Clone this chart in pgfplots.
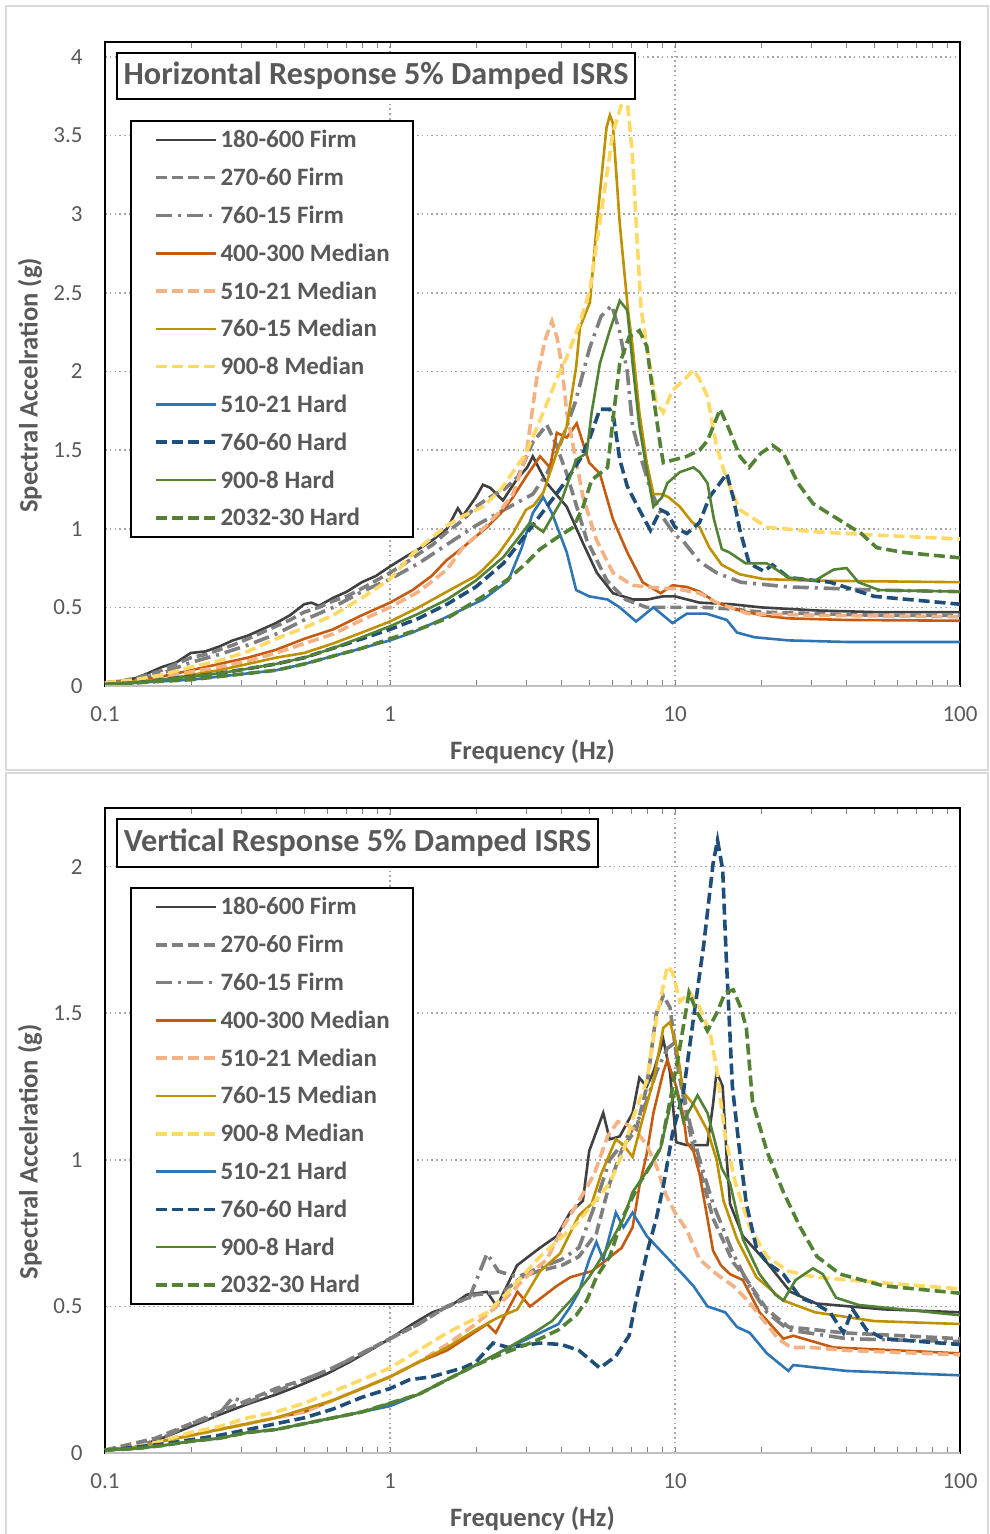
\documentclass[border=0pt]{standalone}
\usepackage{fontspec}
\setmainfont{Carlito}
\usepackage{pgfplots}
\pgfplotsset{compat=1.18}

\definecolor{cDark}{HTML}{404040}
\definecolor{cGray}{HTML}{7F7F7F}
\definecolor{cOrange}{HTML}{C55A11}
\definecolor{cLtOrange}{HTML}{F4B183}
\definecolor{cGold}{HTML}{BF9000}
\definecolor{cYellow}{HTML}{FFD966}
\definecolor{cBlue}{HTML}{2E75B6}
\definecolor{cNavy}{HTML}{1F4E79}
\definecolor{cGreen}{HTML}{548235}
\definecolor{txt}{HTML}{595959}
\definecolor{gridc}{HTML}{A6A6A6}
\definecolor{borderc}{HTML}{D9D9D9}
\definecolor{xaxisc}{HTML}{BFBFBF}

\tikzset{
  s1/.style={cDark, line width=1.3pt, solid},
  s2/.style={cGray, line width=1.8pt, dash pattern=on 5.5pt off 2.5pt},
  s3/.style={cGray, line width=1.8pt, dash pattern=on 8pt off 3pt on 1.5pt off 3pt},
  s4/.style={cOrange, line width=1.3pt, solid},
  s5/.style={cLtOrange, line width=1.8pt, dash pattern=on 5.5pt off 2.5pt},
  s6/.style={cGold, line width=1.3pt, solid},
  s7/.style={cYellow, line width=1.8pt, dash pattern=on 5.5pt off 2.5pt},
  s8/.style={cBlue, line width=1.3pt, solid},
  s9/.style={cNavy, line width=1.8pt, dash pattern=on 5.5pt off 2.5pt},
  s10/.style={cGreen, line width=1.3pt, solid},
  s11/.style={cGreen, line width=1.8pt, dash pattern=on 5.5pt off 2.5pt},
}

\begin{document}
\begin{tikzpicture}
\path[use as bounding box] (0pt,0pt) rectangle (494.5pt,-767pt);
\draw[borderc, line width=1pt] (3pt,-3pt) rectangle (494pt,-385pt);
\draw[borderc, line width=1pt] (3pt,-386.5pt) rectangle (494pt,-772pt);

% ---------- horizontal ----------
\begin{axis}[at={(52.5pt,-343pt)}, anchor=south west,
    scale only axis, width=427.5pt, height=322pt,
    xmode=log, xmin=0.1, xmax=100, ymin=0, ymax=4.095,
    xtick={0.1,1,10,100}, xticklabels={0.1,1,10,100},
    ytick={0,0.5,1,1.5,2,2.5,3,3.5,4},
    yticklabels={0,0.5,1,1.5,2,2.5,3,3.5,4},
    minor xtick={},
    grid=major,
    major grid style={gridc, line width=0.8pt, dash pattern=on 0.8pt off 1.6pt},
    major tick length=0pt,
    axis line style={black, line width=1pt},
    tick label style={font=\fontsize{11.5}{13}\selectfont, text=txt},
    yticklabel style={inner sep=0pt, xshift=-11pt},
    xticklabel style={inner sep=0pt, yshift=-10pt},
    label style={font=\bfseries\fontsize{13.3}{15}\selectfont, text=txt},
    xlabel={Frequency (Hz)},
    ylabel={Spectral Accelration (g)},
    xlabel style={at={(axis description cs:0.5,-0.1025)}, anchor=center},
    ylabel style={at={(axis description cs:-0.0877,0.467)}, anchor=center},
    clip=false,
    legend cell align=left,
    legend image code/.code={\draw[#1] (0pt,0pt) -- (30pt,0pt);},
    legend style={at={(0.0292,0.8789)}, anchor=north west,
      draw=black, line width=1pt, fill=white,
      inner xsep=11.5pt, inner ysep=0pt,
      font=\bfseries\fontsize{12.5}{14}\selectfont,
      row sep=0pt,
      nodes={inner sep=0pt, text height=13.45pt, text depth=5.45pt, text=txt},
      /tikz/every odd column/.append style={column sep=1.5pt}},
  ]
\addplot[s1] coordinates {(0.1,0.02) (0.113,0.03) (0.128,0.05) (0.141,0.08) (0.158,0.12) (0.178,0.15) (0.2,0.21) (0.225,0.22) (0.251,0.25) (0.281,0.29) (0.317,0.32) (0.355,0.36) (0.398,0.40) (0.446,0.45) (0.5,0.52) (0.53,0.53) (0.563,0.51) (0.631,0.56) (0.706,0.60) (0.797,0.66) (0.893,0.70) (1,0.76) (1.13,0.82) (1.26,0.87) (1.415,0.93) (1.585,1.0) (1.73,1.13) (1.8,1.08) (2.0,1.2) (2.12,1.28) (2.25,1.26) (2.49,1.18) (2.8,1.32) (3.03,1.39) (3.17,1.46) (3.55,1.29) (4.17,1.14) (4.75,0.91) (5.32,0.72) (6.06,0.59) (7.13,0.55) (8.0,0.55) (9.07,0.57) (10,0.57) (12.2,0.53) (15.8,0.52) (20,0.50) (31.7,0.48) (50,0.47) (100,0.47)};
\addlegendentry{180-600 Firm}
\addplot[s2] coordinates {(0.1,0.02) (0.113,0.03) (0.128,0.05) (0.141,0.07) (0.158,0.10) (0.178,0.14) (0.2,0.18) (0.225,0.20) (0.251,0.23) (0.281,0.26) (0.317,0.30) (0.355,0.34) (0.398,0.38) (0.446,0.42) (0.5,0.47) (0.563,0.50) (0.631,0.54) (0.706,0.57) (0.797,0.62) (0.893,0.67) (1,0.72) (1.13,0.78) (1.26,0.84) (1.415,0.90) (1.585,0.98) (1.79,1.05) (2.0,1.14) (2.24,1.20) (2.51,1.25) (2.81,1.33) (3.17,1.55) (3.55,1.66) (3.8,1.55) (4.17,1.35) (4.9,0.93) (5.77,0.67) (6.7,0.55) (7.96,0.50) (10,0.50) (12.6,0.50) (15.8,0.49) (20,0.47) (31.7,0.46) (50,0.45) (100,0.45)};
\addlegendentry{270-60 Firm}
\addplot[s3] coordinates {(0.1,0.02) (0.128,0.04) (0.158,0.08) (0.2,0.15) (0.251,0.20) (0.317,0.26) (0.398,0.33) (0.5,0.42) (0.631,0.50) (0.797,0.60) (1,0.68) (1.26,0.78) (1.585,0.90) (2.0,1.02) (2.51,1.12) (3.17,1.22) (3.55,1.35) (3.98,1.55) (4.46,1.80) (5.02,2.15) (5.5,2.35) (6.0,2.42) (6.4,2.25) (6.8,2.0) (7.1,1.65) (7.6,1.45) (8.2,1.25) (9.0,1.08) (10,0.96) (10.7,0.92) (12.2,0.79) (14,0.72) (17,0.66) (25,0.63) (36,0.62) (50,0.61) (100,0.60)};
\addlegendentry{760-15 Firm}
\addplot[s4] coordinates {(0.1,0.02) (0.128,0.03) (0.158,0.06) (0.2,0.10) (0.251,0.14) (0.317,0.18) (0.398,0.23) (0.5,0.30) (0.631,0.36) (0.797,0.45) (1,0.53) (1.2,0.61) (1.4,0.70) (1.58,0.80) (1.8,0.88) (2.0,0.95) (2.19,1.01) (2.45,1.10) (2.7,1.20) (3.0,1.33) (3.36,1.46) (3.64,1.39) (3.85,1.61) (4.17,1.58) (4.52,1.67) (5.0,1.42) (5.45,1.35) (6.06,1.06) (6.8,0.85) (7.7,0.66) (8.9,0.59) (9.8,0.64) (11,0.63) (12.2,0.60) (14,0.53) (17,0.48) (20,0.45) (25,0.43) (40,0.42) (100,0.415)};
\addlegendentry{400-300 Median}
\addplot[s5] coordinates {(0.1,0.02) (0.128,0.03) (0.158,0.05) (0.2,0.09) (0.251,0.12) (0.317,0.16) (0.398,0.21) (0.5,0.27) (0.631,0.33) (0.797,0.42) (1,0.50) (1.26,0.60) (1.585,0.74) (1.8,0.88) (2.0,0.95) (2.4,1.10) (2.7,1.22) (3.0,1.46) (3.27,1.95) (3.5,2.2) (3.7,2.32) (3.85,2.22) (4.0,2.05) (4.17,1.74) (4.4,1.52) (4.76,1.20) (5.3,0.93) (6.06,0.72) (7.1,0.64) (9.1,0.62) (10,0.62) (12.2,0.59) (14,0.53) (18,0.46) (30,0.45) (100,0.44)};
\addlegendentry{510-21 Median}
\addplot[s6] coordinates {(0.1,0.02) (0.128,0.03) (0.158,0.04) (0.2,0.07) (0.251,0.10) (0.317,0.14) (0.398,0.18) (0.5,0.21) (0.631,0.27) (0.797,0.34) (1,0.41) (1.26,0.50) (1.585,0.60) (2.0,0.70) (2.12,0.74) (2.4,0.84) (2.7,0.97) (3.0,1.12) (3.2,1.15) (3.45,1.23) (3.84,1.48) (4.17,1.65) (4.5,2.03) (4.64,2.28) (5.03,2.44) (5.33,2.96) (5.75,3.55) (5.91,3.63) (6.05,3.58) (6.4,2.94) (6.84,2.39) (7.1,2.16) (7.5,1.74) (7.96,1.42) (8.4,1.22) (9.0,1.22) (9.5,1.2) (10.4,1.14) (11.5,1.04) (12.2,1.01) (13.2,0.88) (14.6,0.77) (16.9,0.71) (20.5,0.68) (30,0.67) (100,0.66)};
\addlegendentry{760-15 Median}
\addplot[s7] coordinates {(0.1,0.02) (0.128,0.04) (0.158,0.07) (0.2,0.12) (0.251,0.16) (0.317,0.22) (0.398,0.30) (0.5,0.37) (0.631,0.45) (0.797,0.56) (1,0.68) (1.2,0.84) (1.415,0.95) (1.585,1.02) (1.8,1.08) (2.12,1.14) (2.45,1.25) (3.0,1.48) (3.45,1.74) (3.84,1.95) (4.17,2.09) (4.64,2.31) (5.03,2.52) (5.45,2.95) (6.06,3.52) (6.5,3.70) (6.84,3.68) (7.1,3.36) (7.36,2.84) (7.6,2.4) (8.17,2.03) (8.6,1.80) (9.1,1.74) (9.8,1.88) (10.8,1.95) (11.6,2.01) (12.2,1.95) (13,1.84) (14,1.52) (15.2,1.31) (16.9,1.12) (21,1.01) (31.4,0.98) (50,0.96) (100,0.935)};
\addlegendentry{900-8 Median}
\addplot[s8] coordinates {(0.1,0.01) (0.128,0.02) (0.158,0.03) (0.2,0.04) (0.251,0.06) (0.317,0.08) (0.398,0.10) (0.5,0.14) (0.631,0.19) (0.797,0.24) (1,0.29) (1.2,0.34) (1.585,0.44) (2.12,0.55) (2.6,0.67) (2.9,0.88) (3.17,1.10) (3.45,1.20) (3.7,1.10) (4.17,0.85) (4.5,0.61) (5.0,0.57) (5.8,0.55) (6.4,0.50) (7.3,0.41) (8.4,0.50) (9.8,0.40) (11.0,0.46) (12.9,0.46) (15.2,0.42) (16.5,0.34) (19,0.31) (25,0.29) (40,0.28) (100,0.28)};
\addlegendentry{510-21 Hard}
\addplot[s9] coordinates {(0.1,0.01) (0.128,0.02) (0.158,0.04) (0.2,0.06) (0.251,0.08) (0.317,0.11) (0.398,0.14) (0.5,0.18) (0.631,0.24) (0.797,0.30) (1,0.36) (1.26,0.43) (1.585,0.52) (2.0,0.63) (2.5,0.78) (2.9,0.93) (3.55,1.14) (4.17,1.31) (4.64,1.44) (5.03,1.58) (5.45,1.76) (5.9,1.76) (6.1,1.70) (6.4,1.44) (6.8,1.27) (7.5,1.12) (8.2,0.99) (8.9,1.12) (9.4,1.10) (10,1.01) (11,0.97) (12.2,1.04) (13.2,1.20) (15.2,1.35) (16,1.20) (16.9,0.99) (18.2,0.78) (20.5,0.73) (22,0.77) (25,0.69) (35,0.66) (50,0.57) (100,0.52)};
\addlegendentry{760-60 Hard}
\addplot[s10] coordinates {(0.1,0.01) (0.128,0.02) (0.158,0.04) (0.2,0.06) (0.251,0.08) (0.317,0.11) (0.398,0.14) (0.5,0.18) (0.631,0.24) (0.797,0.31) (1,0.38) (1.26,0.46) (1.585,0.55) (2.0,0.67) (2.5,0.82) (2.9,0.97) (3.1,1.04) (3.45,0.98) (4.0,1.18) (4.5,1.44) (4.9,1.48) (5.1,1.74) (5.45,2.05) (5.9,2.26) (6.4,2.45) (6.8,2.39) (7.1,2.05) (7.5,1.65) (8.0,1.35) (8.4,1.14) (9.0,1.20) (9.4,1.29) (10.4,1.36) (11.6,1.39) (12.2,1.36) (13,1.29) (13.7,1.06) (14.6,0.87) (15.5,0.85) (17.7,0.78) (21,0.78) (25,0.69) (31,0.67) (36,0.74) (40,0.75) (44,0.66) (52,0.61) (100,0.60)};
\addlegendentry{900-8 Hard}
\addplot[s11] coordinates {(0.1,0.01) (0.128,0.02) (0.158,0.03) (0.2,0.04) (0.251,0.06) (0.317,0.08) (0.398,0.10) (0.5,0.14) (0.631,0.19) (0.797,0.24) (1,0.30) (1.26,0.36) (1.585,0.43) (2.12,0.57) (2.6,0.68) (3.0,0.78) (3.36,0.87) (3.9,0.95) (4.4,1.01) (4.76,1.14) (5.1,1.31) (5.8,1.39) (6.1,1.74) (6.4,2.05) (6.9,2.22) (7.5,2.26) (7.96,2.16) (8.4,1.84) (8.9,1.52) (9.1,1.42) (10,1.44) (11,1.46) (12.2,1.50) (13,1.56) (14.4,1.76) (15.5,1.63) (16.9,1.46) (18.2,1.39) (20,1.48) (22,1.53) (24,1.48) (27,1.29) (30.5,1.16) (35.9,1.08) (45,0.97) (51,0.88) (63,0.85) (100,0.815)};
\addlegendentry{2032-30 Hard}
\draw[xaxisc, line width=1.2pt] (rel axis cs:0,0) -- (rel axis cs:1,0);
\node[draw=black, line width=1pt, fill=white, minimum width=259pt, minimum height=23pt, anchor=north west, inner sep=0pt, font=\bfseries\fontsize{16.1}{18}\selectfont, text=txt] at (rel axis cs:0.0129,0.9845) {Horizontal Response 5\% Damped ISRS};
\end{axis}

% ---------- vertical ----------
\begin{axis}[at={(52.5pt,-726.5pt)}, anchor=south west,
    scale only axis, width=427.5pt, height=322.5pt,
    xmode=log, xmin=0.1, xmax=100, ymin=0, ymax=2.2,
    xtick={0.1,1,10,100}, xticklabels={0.1,1,10,100},
    ytick={0,0.5,1,1.5,2},
    yticklabels={0,0.5,1,1.5,2},
    minor xtick={},
    grid=major,
    major grid style={gridc, line width=0.8pt, dash pattern=on 0.8pt off 1.6pt},
    major tick length=0pt,
    axis line style={black, line width=1pt},
    tick label style={font=\fontsize{11.5}{13}\selectfont, text=txt},
    yticklabel style={inner sep=0pt, xshift=-11pt},
    xticklabel style={inner sep=0pt, yshift=-10pt},
    label style={font=\bfseries\fontsize{13.3}{15}\selectfont, text=txt},
    xlabel={Frequency (Hz)},
    ylabel={Spectral Accelration (g)},
    xlabel style={at={(axis description cs:0.5,-0.1025)}, anchor=center},
    ylabel style={at={(axis description cs:-0.0877,0.467)}, anchor=center},
    clip=false,
    legend cell align=left,
    legend image code/.code={\draw[#1] (0pt,0pt) -- (30pt,0pt);},
    legend style={at={(0.0292,0.8775)}, anchor=north west,
      draw=black, line width=1pt, fill=white,
      inner xsep=11.5pt, inner ysep=0pt,
      font=\bfseries\fontsize{12.5}{14}\selectfont,
      row sep=0pt,
      nodes={inner sep=0pt, text height=13.45pt, text depth=5.45pt, text=txt},
      /tikz/every odd column/.append style={column sep=1.5pt}},
  ]
\addplot[s1] coordinates {(0.1,0.01) (0.128,0.02) (0.158,0.05) (0.2,0.09) (0.225,0.11) (0.251,0.13) (0.323,0.17) (0.4,0.20) (0.48,0.23) (0.6,0.27) (0.72,0.31) (0.85,0.35) (1,0.39) (1.2,0.44) (1.41,0.48) (1.62,0.50) (1.86,0.54) (2.19,0.55) (2.37,0.50) (2.79,0.64) (3.36,0.70) (3.85,0.74) (4.28,0.82) (4.75,0.86) (5.0,1.03) (5.6,1.16) (5.9,1.07) (6.4,1.08) (7.1,1.16) (7.5,1.28) (7.96,1.25) (8.4,1.30) (9.1,1.41) (9.6,1.30) (10.1,1.06) (11,1.05) (13,1.05) (13.6,1.19) (14,1.30) (14.7,1.25) (15.2,1.0) (15.6,0.85) (17.3,0.74) (21,0.65) (25.4,0.55) (31.3,0.51) (54,0.49) (100,0.48)};
\addlegendentry{180-600 Firm}
\addplot[s2] coordinates {(0.1,0.01) (0.15,0.05) (0.2,0.10) (0.251,0.14) (0.317,0.18) (0.398,0.22) (0.5,0.25) (0.631,0.29) (0.797,0.34) (1,0.39) (1.26,0.44) (1.585,0.50) (2.0,0.54) (2.5,0.55) (2.9,0.60) (3.3,0.62) (4.0,0.64) (4.6,0.67) (5.3,0.75) (5.9,0.92) (6.6,1.05) (7.3,1.10) (7.96,1.25) (8.6,1.50) (9.1,1.56) (9.6,1.52) (10.3,1.30) (11,1.15) (11.6,1.04) (12.2,0.97) (13.6,0.80) (16,0.65) (17.3,0.61) (21,0.49) (25,0.43) (39,0.41) (100,0.39)};
\addlegendentry{270-60 Firm}
\addplot[s3] coordinates {(0.1,0.01) (0.128,0.02) (0.158,0.05) (0.2,0.10) (0.25,0.13) (0.281,0.19) (0.31,0.17) (0.398,0.21) (0.5,0.25) (0.631,0.29) (0.797,0.34) (1,0.39) (1.26,0.44) (1.585,0.50) (1.9,0.53) (2.19,0.68) (2.4,0.62) (2.8,0.60) (3.3,0.63) (4,0.66) (4.6,0.70) (5.3,0.86) (5.9,1.0) (6.6,1.06) (7.3,1.12) (7.96,1.20) (8.6,1.30) (9.4,1.38) (10,1.40) (10.6,1.25) (11.3,1.12) (12.2,1.0) (13.6,0.85) (16,0.68) (18,0.58) (21,0.48) (25,0.42) (40,0.39) (100,0.38)};
\addlegendentry{760-15 Firm}
\addplot[s4] coordinates {(0.1,0.01) (0.128,0.02) (0.158,0.04) (0.2,0.06) (0.251,0.08) (0.317,0.10) (0.398,0.12) (0.5,0.14) (0.631,0.18) (0.797,0.22) (1,0.26) (1.26,0.31) (1.585,0.35) (1.9,0.40) (2.19,0.44) (2.35,0.41) (2.8,0.55) (3.1,0.50) (3.85,0.57) (4.3,0.60) (5.1,0.62) (5.6,0.65) (6.5,0.70) (7.1,0.77) (7.5,0.91) (7.96,1.02) (8.4,1.16) (9.1,1.30) (9.4,1.34) (10.1,1.25) (10.7,1.15) (11,1.06) (11.6,1.03) (12.2,0.95) (13,0.80) (13.6,0.69) (14.5,0.64) (15.6,0.61) (17.3,0.59) (19.8,0.48) (24,0.39) (26,0.40) (36,0.36) (100,0.34)};
\addlegendentry{400-300 Median}
\addplot[s5] coordinates {(0.1,0.01) (0.128,0.02) (0.158,0.04) (0.2,0.06) (0.251,0.08) (0.317,0.10) (0.398,0.12) (0.5,0.14) (0.631,0.18) (0.797,0.22) (1,0.26) (1.26,0.31) (1.585,0.37) (2.0,0.44) (2.5,0.52) (3.0,0.60) (3.55,0.66) (4.1,0.78) (4.6,0.86) (5.2,0.95) (5.8,1.08) (6.3,1.13) (6.8,1.12) (7.3,1.10) (7.96,1.05) (8.6,0.98) (9.3,0.88) (10,0.82) (11,0.76) (12.2,0.66) (14,0.61) (16,0.57) (18,0.52) (19.8,0.47) (23,0.39) (25.5,0.36) (30,0.36) (40,0.35) (100,0.335)};
\addlegendentry{510-21 Median}
\addplot[s6] coordinates {(0.1,0.01) (0.128,0.02) (0.158,0.04) (0.2,0.06) (0.251,0.08) (0.317,0.10) (0.398,0.12) (0.5,0.15) (0.631,0.18) (0.797,0.22) (1,0.26) (1.26,0.31) (1.585,0.36) (2.0,0.42) (2.37,0.46) (2.8,0.49) (3.36,0.62) (3.95,0.68) (4.6,0.81) (5.1,0.85) (5.5,0.95) (6.2,1.07) (6.6,1.05) (7.1,1.01) (7.7,1.14) (8.4,1.27) (9.1,1.45) (9.6,1.47) (10.1,1.39) (10.7,1.23) (11.6,1.19) (13,1.10) (14,1.0) (14.8,0.86) (16.5,0.73) (19.3,0.60) (24,0.52) (31,0.48) (50,0.45) (100,0.44)};
\addlegendentry{760-15 Median}
\addplot[s7] coordinates {(0.1,0.01) (0.128,0.02) (0.158,0.04) (0.2,0.07) (0.251,0.09) (0.317,0.12) (0.398,0.14) (0.5,0.17) (0.631,0.21) (0.797,0.25) (1,0.29) (1.26,0.35) (1.585,0.41) (2.2,0.48) (2.6,0.55) (3.36,0.67) (4.5,0.78) (5.9,0.92) (6.6,1.03) (7.1,1.14) (7.96,1.27) (8.6,1.48) (9.4,1.66) (9.8,1.64) (10.4,1.54) (11.3,1.57) (12.2,1.52) (13.3,1.43) (14,1.31) (15,1.08) (16.3,0.92) (18.3,0.77) (21,0.67) (25,0.62) (31,0.60) (54,0.58) (100,0.56)};
\addlegendentry{900-8 Median}
\addplot[s8] coordinates {(0.1,0.01) (0.128,0.015) (0.158,0.025) (0.2,0.04) (0.251,0.05) (0.317,0.07) (0.398,0.08) (0.5,0.10) (0.631,0.12) (0.797,0.14) (1,0.16) (1.26,0.20) (1.585,0.25) (2.0,0.30) (2.5,0.35) (3.2,0.40) (3.9,0.44) (4.3,0.50) (4.6,0.55) (5.0,0.66) (5.3,0.72) (5.6,0.66) (6.2,0.82) (6.6,0.77) (7.1,0.82) (7.96,0.74) (9.1,0.68) (10.4,0.62) (11.6,0.57) (13,0.50) (15,0.48) (16.5,0.43) (18.3,0.41) (21,0.34) (25,0.28) (26,0.30) (40,0.28) (100,0.265)};
\addlegendentry{510-21 Hard}
\addplot[s9] coordinates {(0.1,0.01) (0.128,0.02) (0.158,0.03) (0.2,0.045) (0.251,0.06) (0.317,0.08) (0.398,0.10) (0.5,0.12) (0.631,0.15) (0.797,0.19) (1,0.22) (1.17,0.25) (1.4,0.26) (1.8,0.29) (2.0,0.31) (2.3,0.375) (2.6,0.36) (3.36,0.375) (4.0,0.37) (4.6,0.35) (5.45,0.29) (6.2,0.33) (6.9,0.40) (7.3,0.52) (7.96,0.68) (8.6,0.80) (9.1,0.91) (9.8,1.09) (10.7,1.23) (11.6,1.48) (12.6,1.73) (13.6,2.01) (14.1,2.09) (14.7,1.99) (15.1,1.71) (15.5,1.48) (15.9,1.25) (16.9,1.02) (17.8,0.85) (19.3,0.70) (21,0.65) (24,0.61) (27.5,0.53) (31,0.51) (35,0.48) (39,0.41) (42,0.49) (47,0.42) (54,0.39) (100,0.37)};
\addlegendentry{760-60 Hard}
\addplot[s10] coordinates {(0.1,0.01) (0.128,0.015) (0.158,0.025) (0.2,0.04) (0.251,0.05) (0.317,0.07) (0.398,0.08) (0.5,0.10) (0.631,0.12) (0.797,0.14) (1,0.17) (1.26,0.20) (1.585,0.25) (2.0,0.30) (2.5,0.35) (3.2,0.41) (3.7,0.45) (4.3,0.52) (5.0,0.60) (5.8,0.70) (6.6,0.80) (7.1,0.89) (7.96,0.96) (8.9,1.04) (9.6,1.18) (10.1,1.24) (10.7,1.13) (12,1.22) (13,1.16) (14,1.04) (14.6,0.97) (15.6,0.92) (17.3,0.73) (19.8,0.61) (22.5,0.54) (24,0.52) (26.5,0.59) (30.5,0.63) (33,0.61) (36.7,0.53) (44,0.505) (100,0.47)};
\addlegendentry{900-8 Hard}
\addplot[s11] coordinates {(0.1,0.01) (0.128,0.015) (0.158,0.025) (0.2,0.04) (0.251,0.05) (0.317,0.07) (0.398,0.08) (0.5,0.10) (0.631,0.12) (0.797,0.14) (1,0.17) (1.26,0.20) (1.585,0.25) (2.0,0.30) (2.5,0.34) (3.2,0.38) (3.9,0.42) (4.5,0.47) (4.9,0.52) (5.3,0.60) (5.9,0.67) (6.6,0.81) (7.5,0.92) (8.2,0.98) (8.9,1.04) (9.6,1.20) (10.3,1.36) (11.2,1.57) (12,1.50) (13,1.44) (14,1.50) (15,1.57) (16,1.58) (17,1.52) (17.8,1.45) (18.7,1.20) (21,1.03) (24,0.89) (27.5,0.77) (31.5,0.67) (38,0.61) (54,0.57) (100,0.545)};
\addlegendentry{2032-30 Hard}
\draw[xaxisc, line width=1.2pt] (rel axis cs:0,0) -- (rel axis cs:1,0);
\node[draw=black, line width=1pt, fill=white, minimum width=240.5pt, minimum height=24pt, anchor=north west, inner sep=0pt, font=\bfseries\fontsize{16.1}{18}\selectfont, text=txt] at (rel axis cs:0.0129,0.9845) {Vertical Response 5\% Damped ISRS};
\end{axis}
\end{tikzpicture}
\end{document}
